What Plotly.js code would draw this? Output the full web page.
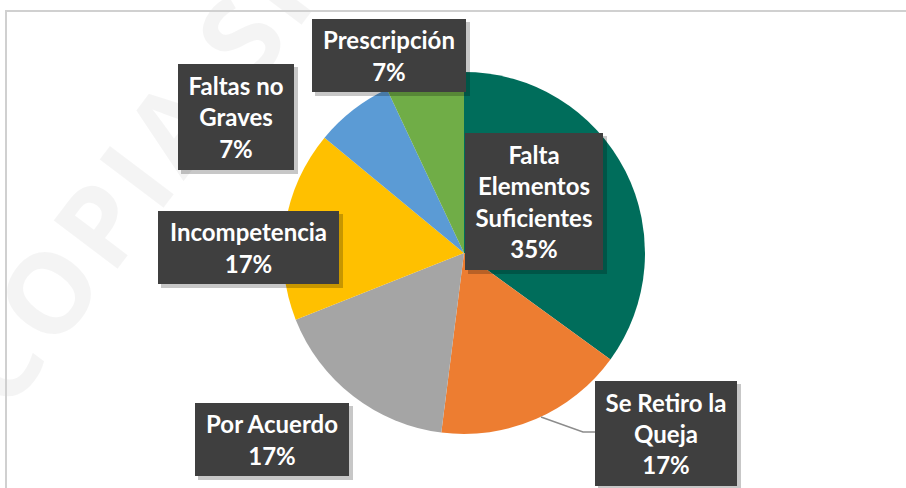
<!DOCTYPE html>
<html>
<head>
<meta charset="utf-8">
<script src="https://cdn.plot.ly/plotly-3.0.1.min.js"></script>
<style>
html,body{margin:0;padding:0;background:#fff;}
#wrap{position:relative;width:906px;height:488px;overflow:hidden;}
#wm{position:absolute;left:-150px;top:65px;font-family:"Open Sans",sans-serif;font-weight:bold;font-size:112px;color:rgba(0,0,0,0.045);transform:rotate(-53deg);transform-origin:center center;white-space:nowrap;letter-spacing:6px;}
#chart{position:absolute;left:0;top:0;width:906px;height:488px;}
</style>
</head>
<body>
<div id="wrap">
<div id="wm">COPIA SIN</div>
<div id="chart"></div>
</div>
<script>
// Data
const categories = ["Falta Elementos Suficientes", "Se Retiro la Queja", "Por Acuerdo", "Incompetencia", "Faltas no Graves", "Prescripción"];
const labelLines = ["Falta<br>Elementos<br>Suficientes", "Se Retiro la<br>Queja", "Por Acuerdo", "Incompetencia", "Faltas no<br>Graves", "Prescripción"];
const percents = [35, 17, 17, 17, 7, 7];
const colors = ["#006D5B", "#ED7D31", "#A5A5A5", "#FFC000", "#5B9BD5", "#70AD47"];

const W = 906, H = 488;
const px = x => x / W;
const py = y => 1 - y / H;

// label boxes (pixel layout): center x, center y, width, height
const boxes = [
  [534, 201.5, 138, 137],
  [666, 433.5, 142, 105],
  [272, 439.5, 154, 73],
  [248.5, 247.5, 181, 73],
  [236, 117, 116, 106],
  [389, 55.5, 154, 73]
];

// pie geometry
const cx = 464, cy = 253, r = 181;

const trace = {
  type: "pie",
  values: percents,
  labels: categories,
  marker: { colors: colors, line: { width: 0 } },
  sort: false,
  direction: "clockwise",
  rotation: 0,
  textinfo: "none",
  hoverinfo: "label+percent",
  showlegend: false,
  domain: { x: [px(cx - r), px(cx + r)], y: [py(cy + r), py(cy - r)] }
};

const annotations = [];
const shapes = [];

// chart frame
shapes.push({ type: "rect", xref: "paper", yref: "paper", x0: px(6), x1: px(930), y0: py(11), y1: py(520), line: { color: "#d0d0d0", width: 2 }, fillcolor: "rgba(0,0,0,0)", layer: "below" });

// leader line for "Se Retiro la Queja"
shapes.push({ type: "path", xref: "paper", yref: "paper",
  path: `M ${px(541)} ${py(417)} L ${px(583)} ${py(432)} L ${px(595)} ${py(432)}`,
  line: { color: "#8c8c8c", width: 1.5 }, layer: "above" });

boxes.forEach((b, i) => {
  const [bx, by, bw, bh] = b;
  shapes.push({ type: "rect", xref: "paper", yref: "paper",
    x0: px(bx - bw / 2 + 3), x1: px(bx + bw / 2 + 4), y0: py(by + bh / 2 + 4), y1: py(by - bh / 2 + 3),
    line: { width: 0 }, fillcolor: "rgba(0,0,0,0.22)", layer: "above" });
  annotations.push({
    xref: "paper", yref: "paper", x: px(bx), y: py(by), xanchor: "center", yanchor: "middle",
    width: bw, height: bh, borderpad: 0, borderwidth: 0,
    bgcolor: "#3f3f3f", showarrow: false, align: "center", valign: "middle",
    text: labelLines[i] + "<br>" + percents[i] + "%",
    font: { family: "Lato, sans-serif", size: 24, color: "#ffffff", weight: "bold" }
  });
});

const layout = {
  width: W, height: H,
  margin: { l: 0, r: 0, t: 0, b: 0 },
  paper_bgcolor: "rgba(0,0,0,0)",
  plot_bgcolor: "rgba(0,0,0,0)",
  showlegend: false,
  shapes: shapes,
  annotations: annotations
};

Plotly.newPlot("chart", [trace], layout, { displayModeBar: false, staticPlot: true });
</script>
</body>
</html>
